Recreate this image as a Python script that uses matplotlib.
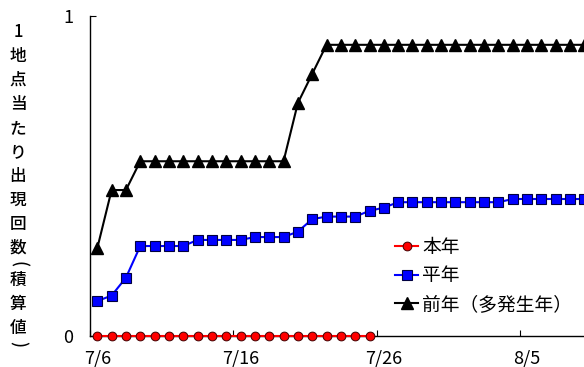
import matplotlib
matplotlib.use("Agg")
import matplotlib.pyplot as plt
import pandas as pd

plt.rcParams['font.family'] = ['Noto Sans CJK JP', 'DejaVu Sans']

# 日付 (7/6 から)
dates = pd.date_range('2000-07-06', '2000-08-09')

# 本年: 7/25 まで
honnen = [0.0] * 20

# 平年
heinen = [0.108, 0.125, 0.181, 0.280, 0.280, 0.280, 0.280,
          0.299, 0.299, 0.299, 0.299, 0.308, 0.308, 0.308,
          0.325, 0.364, 0.372, 0.372, 0.372, 0.390, 0.400,
          0.417, 0.417, 0.417, 0.417, 0.417, 0.417, 0.417, 0.417,
          0.427, 0.427, 0.427, 0.427, 0.427, 0.427]

# 前年 (多発生年)
zennen = [0.273, 0.455, 0.455,
          0.545, 0.545, 0.545, 0.545, 0.545, 0.545, 0.545, 0.545, 0.545, 0.545, 0.545,
          0.727, 0.818,
          0.909, 0.909, 0.909, 0.909, 0.909, 0.909, 0.909, 0.909, 0.909, 0.909,
          0.909, 0.909, 0.909, 0.909, 0.909, 0.909, 0.909, 0.909, 0.909]

tick_dates = ['2000-07-06', '2000-07-16', '2000-07-26', '2000-08-05']
tick_labels = ['7/6', '7/16', '7/26', '8/5']

ylabel_chars = ['1', '地', '点', '当', 'た', 'り', '出', '現', '回', '数',
                '(', '積', '算', '値', ')']

fig = plt.figure(figsize=(5.84, 3.67), dpi=100)
ax = fig.add_axes([0.1543, 0.0856, 0.8457, 0.8716])

ax.plot(dates[:len(honnen)], honnen, color='#FF0000', lw=1.5, marker='o', ms=6.3,
        mfc='#FF0000', mec='#400000', mew=0.7, clip_on=False, zorder=5, label='本年')
ax.plot(dates[:len(heinen)], heinen, color='#0000FF', lw=1.5, marker='s', ms=6.8,
        mfc='#0000FF', mec='#000040', mew=0.8, clip_on=True, zorder=4, label='平年')
ax.plot(dates[:len(zennen)], zennen, color='black', lw=1.5, marker='^', ms=8,
        mfc='black', mec='black', clip_on=True, zorder=3, label='前年（多発生年）')

day = pd.Timedelta(days=1)
ax.set_xlim(dates[0] - 0.5 * day, dates[0] + 33.97 * day)
ax.set_ylim(0, 1)

for s in ['top', 'right']:
    ax.spines[s].set_visible(False)
ax.spines['left'].set_linewidth(1.0)
ax.spines['bottom'].set_linewidth(1.0)

# 目盛り線は日の境目、ラベルは日の中央
ticks = pd.to_datetime(tick_dates)
ax.set_xticks(ticks - 0.5 * day)
ax.set_xticklabels([])
ax.tick_params(axis='x', which='major', direction='in', length=4, width=0.8)
ax.set_xticks(ticks, minor=True)
ax.set_xticklabels(tick_labels, minor=True)
ax.tick_params(axis='x', which='minor', length=0, pad=10, labelsize=13)

ax.set_yticks([0, 1])
ax.set_yticklabels(['0', '1'])
ax.tick_params(axis='y', direction='in', length=4, width=0.8, pad=12, labelsize=13)

# 縦書きの軸ラベル (括弧は横に倒す)
ylabel_y = [32, 56, 80, 104, 128, 152, 176, 200, 224, 248, 264, 280, 304, 328, 344]
for ch, py in zip(ylabel_chars, ylabel_y):
    rot = -90 if ch in '()' else 0
    fig.text(18 / 584, 1 - py / 367, ch, fontsize=12, ha='center', va='center',
             rotation=rot, fontweight='medium')

ax.legend(loc='upper left', bbox_to_anchor=(395 / 584, 1 - 237 / 367),
          bbox_transform=fig.transFigure, frameon=False, fontsize=13.5,
          handlelength=1.25, handletextpad=0.2, labelspacing=0.4,
          borderpad=0, borderaxespad=0)

fig.savefig('out.png', dpi=100)
